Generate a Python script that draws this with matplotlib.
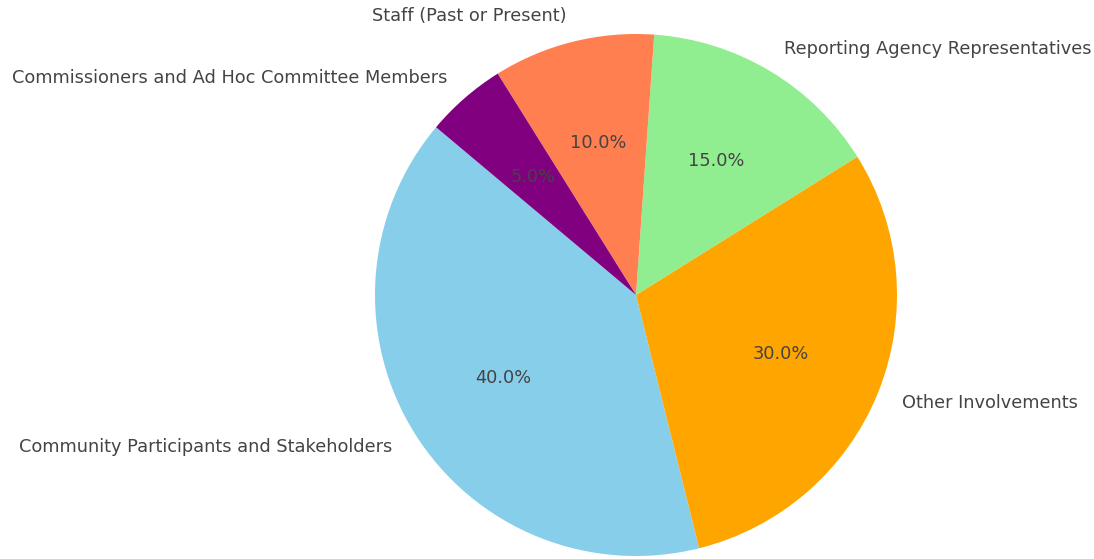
import matplotlib.pyplot as plt

# Participant groups and their share of the total
categorias = ['Community Participants and Stakeholders', 'Other Involvements',
              'Reporting Agency Representatives', 'Staff (Past or Present)',
              'Commissioners and Ad Hoc Committee Members']
valores = [40, 30, 15, 10, 5]
cores = ['skyblue', 'orange', 'lightgreen', 'coral', 'purple']

fig = plt.figure(figsize=(10.94, 5.59), dpi=100)

# pie radius ~261 px, centre at (636, 264) px from bottom-left
r_px = 261
lim = 1.2
w = 2 * lim * r_px
ax = fig.add_axes([(636 - w / 2) / 1094, (264 - w / 2) / 559, w / 1094, w / 559])

wedges, textos, autotextos = ax.pie(valores, labels=categorias, colors=cores,
                                    autopct='%1.1f%%', startangle=140,
                                    textprops={'fontsize': 12.8, 'color': '#444444'})
ax.set_xlim(-lim, lim)
ax.set_ylim(-lim, lim)
ax.set_aspect('equal')
ax.axis('off')

fig.savefig('out.png', dpi=100)
